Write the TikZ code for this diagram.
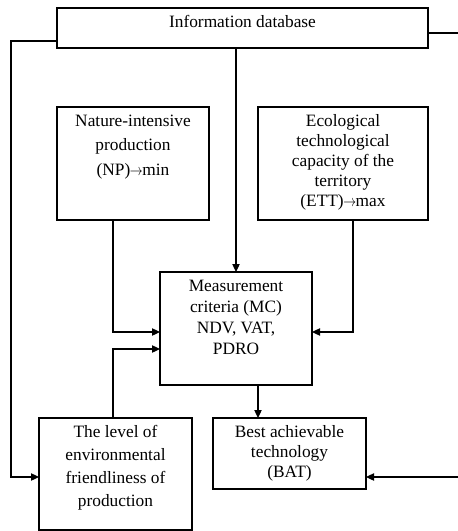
\documentclass[tikz,border=0pt]{standalone}
\usepackage{fontspec}
\setmainfont{Liberation Serif}
\usetikzlibrary{arrows.meta,calc}
\newcommand{\boxtxt}[4]{\parbox[c][#2][t]{#1}{\centering\fontsize{13}{#3}\selectfont\rule{0pt}{14.5pt}#4\par}}
\newcommand{\arw}{\mbox{\kern-0.3pt\scalebox{0.8}[1]{$\rightarrow$}\kern-0.3pt}}
\begin{document}
\begin{tikzpicture}[x=0.75pt,y=-0.75pt,
  bx/.style={draw, line width=0.9pt, inner sep=0pt, outer sep=0pt, anchor=north west},
  ln/.style={line width=0.9pt},
  arr/.style={ln, -{Triangle[length=6pt,width=5.5pt]}}]
\useasboundingbox (0,0) rectangle (457,531);
\node[bx] (db) at (57,8) {\boxtxt{278.25pt}{30pt}{15pt}{Information database}};
\node[bx] (np) at (57,107) {\boxtxt{114pt}{84.75pt}{18.4pt}{Nature-intensive\\production\\(NP)\arw min}};
\node[bx] (ett) at (258,107) {\boxtxt{127.5pt}{84.75pt}{15pt}{Ecological\\technological\\capacity of the\\territory\\(ETT)\arw max}};
\node[bx] (mc) at (160,272) {\boxtxt{114pt}{84.75pt}{15.75pt}{Measurement\\criteria (MC)\\NDV, VAT,\\PDRO}};
\node[bx] (lev) at (39,418) {\boxtxt{114.75pt}{84pt}{17.25pt}{The level of\\environmental\\friendliness of\\production}};
\node[bx] (bat) at (213,418) {\boxtxt{114.75pt}{53.25pt}{15pt}{Best achievable\\technology\\(BAT)}};
\coordinate (rt) at (458,33);
\coordinate (rb) at (458,477);
% connectors
\draw[arr] ($(db.south west)+(0,-7)$) -| ($(lev.north west)+(-28,59)$) -- ($(lev.north west)+(0,59)$);
\draw[ln] ($(db.north east)+(0,25)$) -- (rt);
\draw[arr] (rb) -- ($(bat.north east)+(0,59)$);
\draw[arr] (db.south -| mc.north) -- (mc.north);
\draw[arr] ($(np.south west)+(56,0)$) |- ($(mc.north west)+(0,60)$);
\draw[arr] ($(ett.south west)+(95,0)$) |- ($(mc.north east)+(0,60)$);
\draw[arr] ($(lev.north west)+(74,0)$) |- ($(mc.north west)+(0,77)$);
\draw[arr] ($(mc.south west)+(98,0)$) coordinate (mb) -- (mb |- bat.north);
\end{tikzpicture}
\end{document}
